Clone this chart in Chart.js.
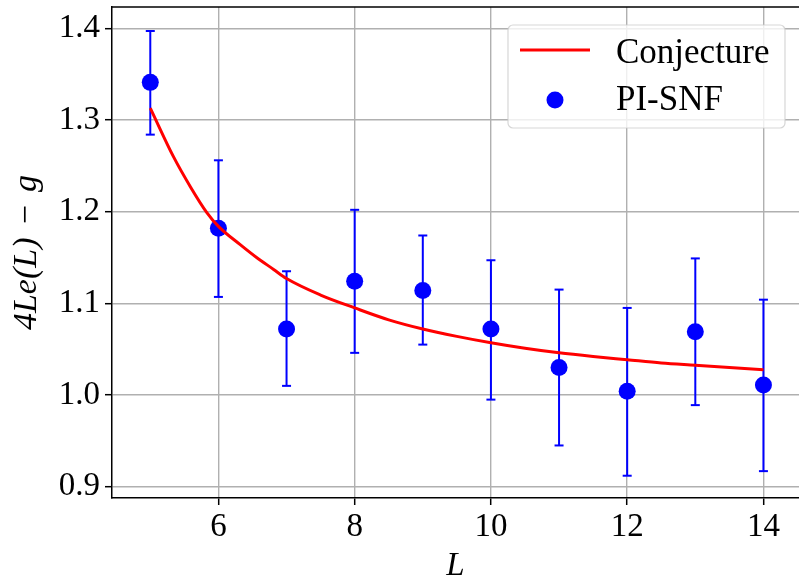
<!DOCTYPE html>
<html>
<head>
<meta charset="utf-8">
<script src="https://cdn.jsdelivr.net/npm/chart.js@4.4.1/dist/chart.umd.min.js"></script>
<style>
html,body{margin:0;padding:0;background:#ffffff;overflow:hidden;}
#wrap{width:799px;height:579px;}
canvas{display:block;}
</style>
</head>
<body>
<div id="wrap"><canvas id="c" width="799" height="579"></canvas></div>
<script>
// ---- data ----
const L        = [5, 6, 7, 8, 9, 10, 11, 12, 13, 14];
const piSnf    = [1.341, 1.182, 1.072, 1.124, 1.114, 1.072, 1.030, 1.004, 1.069, 1.011];
const errLow   = [1.284, 1.107, 1.010, 1.046, 1.055, 0.995, 0.945, 0.912, 0.989, 0.917];
const errHigh  = [1.397, 1.256, 1.135, 1.202, 1.174, 1.147, 1.115, 1.095, 1.149, 1.104];
const conjL    = [5, 5.34, 5.59, 5.83, 6, 6.32, 6.56, 6.81, 7, 7.5, 8, 8.5, 9, 9.5, 10, 10.5, 11, 11.5, 12, 12.5, 13, 13.5, 14];
const conjV    = [1.313, 1.260, 1.227, 1.199, 1.184, 1.164, 1.150, 1.137, 1.127, 1.109, 1.095, 1.082, 1.072, 1.064, 1.057, 1.051, 1.046, 1.042, 1.0385, 1.035, 1.0325, 1.030, 1.0275];
const xTicks      = [6, 8, 10, 12, 14];
const xTickLabels = ['6', '8', '10', '12', '14'];
const yTicks      = [0.9, 1.0, 1.1, 1.2, 1.3, 1.4];
const yTickLabels = ['0.9', '1.0', '1.1', '1.2', '1.3', '1.4'];
const seriesNames = ['Conjecture', 'PI-SNF'];
const xTitle = 'L';
const yTitle = '4Le(L)\u2004\u2212\u2004g';

// ---- build library structures ----
const conjData = conjL.map((x, i) => ({x: x, y: conjV[i]}));
const ptData = L.map((x, i) => ({x: x, y: piSnf[i]}));
const errData = [];
L.forEach((x, i) => {
  errData.push({x: x, y: errLow[i]});
  errData.push({x: x, y: errHigh[i]});
  errData.push({x: x, y: null});
});

const FONT = "'Liberation Serif', 'Times New Roman', serif";
Chart.defaults.font.family = FONT;
Chart.defaults.color = '#000000';

const frame = {
  id: 'frame',
  afterDraw(chart) {
    const {ctx, chartArea: a} = chart;
    ctx.save();
    ctx.strokeStyle = '#000000';
    ctx.lineWidth = 1.5;
    ctx.beginPath();
    ctx.moveTo(a.left, a.top);
    ctx.lineTo(a.right, a.top);
    ctx.stroke();
    ctx.restore();
  }
};

const legendBox = {
  id: 'legendBox',
  afterDraw(chart) {
    const {ctx, chartArea: a} = chart;
    const ds = chart.data.datasets;
    const w = 277, h = 103;
    const x = a.right - 14 - w, y = a.top + 18;
    ctx.save();
    ctx.beginPath();
    ctx.roundRect(x, y, w, h, 5);
    ctx.fillStyle = 'rgba(255,255,255,0.8)';
    ctx.fill();
    ctx.lineWidth = 1.2;
    ctx.strokeStyle = 'rgba(204,204,204,0.8)';
    ctx.stroke();
    // line sample
    ctx.beginPath();
    ctx.moveTo(x + 12, y + 25);
    ctx.lineTo(x + 82, y + 25);
    ctx.strokeStyle = ds[0].borderColor;
    ctx.lineWidth = 3;
    ctx.stroke();
    // marker sample
    ctx.beginPath();
    ctx.arc(x + 47, y + 75, 8.5, 0, Math.PI * 2);
    ctx.fillStyle = ds[1].backgroundColor;
    ctx.fill();
    ctx.fillStyle = '#000000';
    ctx.font = '35px ' + FONT;
    ctx.textBaseline = 'alphabetic';
    ctx.textAlign = 'left';
    ctx.fillText(ds[0].label, x + 108, y + 38);
    ctx.fillText(ds[1].label, x + 108, y + 85);
    ctx.restore();
  }
};

new Chart(document.getElementById('c'), {
  type: 'scatter',
  data: {
    datasets: [
      {
        label: seriesNames[0],
        data: conjData,
        showLine: true,
        borderColor: '#ff0000',
        backgroundColor: '#ff0000',
        borderWidth: 3,
        pointRadius: 0,
        cubicInterpolationMode: 'monotone',
        order: 0
      },
      {
        label: seriesNames[1],
        data: ptData,
        showLine: false,
        backgroundColor: '#0000ff',
        borderColor: '#0000ff',
        borderWidth: 0,
        pointRadius: 8.5,
        order: 1
      },
      {
        label: 'err',
        data: errData,
        showLine: true,
        spanGaps: false,
        borderColor: '#0000ff',
        borderWidth: 2,
        pointStyle: 'line',
        pointRadius: 4.5,
        pointBorderWidth: 2,
        pointBorderColor: '#0000ff',
        order: 2
      }
    ]
  },
  options: {
    responsive: false,
    animation: false,
    devicePixelRatio: 1,
    layout: {autoPadding: false, padding: {top: 7, left: 0, right: 0, bottom: 0}},
    plugins: {
      legend: {display: false},
      tooltip: {enabled: false}
    },
    scales: {
      x: {
        type: 'linear',
        min: 4.438,
        max: 14.522,
        afterBuildTicks(s) { s.ticks = xTicks.map(v => ({value: v})); },
        afterFit(s) { s.height = 81; s.paddingLeft = 0; s.paddingRight = 0; },
        ticks: {
          callback: (v, i) => xTickLabels[i],
          font: {size: 33},
          padding: 3,
          maxRotation: 0,
          autoSkip: false
        },
        grid: {color: '#b0b0b0', lineWidth: 1.4, tickColor: '#000000', tickLength: 7, tickWidth: 1.5},
        border: {color: '#000000', width: 1.5},
        title: {display: true, text: xTitle, font: {size: 33, style: 'italic', lineHeight: 0.75}, padding: {top: 0, bottom: 0}}
      },
      y: {
        type: 'linear',
        min: 0.8877,
        max: 1.4232,
        afterBuildTicks(s) { s.ticks = yTicks.map(v => ({value: v})); },
        afterFit(s) { s.width = 112; s.paddingTop = 0; s.paddingBottom = 0; },
        ticks: {
          callback: (v, i) => yTickLabels[i],
          font: {size: 33},
          padding: 5,
          autoSkip: false
        },
        grid: {color: '#b0b0b0', lineWidth: 1.4, tickColor: '#000000', tickLength: 7, tickWidth: 1.5},
        border: {color: '#000000', width: 1.5},
        title: {display: true, text: yTitle, font: {size: 34, style: 'italic', lineHeight: 1.2}, padding: {top: 7, bottom: 0}}
      }
    }
  },
  plugins: [frame, legendBox]
});
</script>
</body>
</html>
